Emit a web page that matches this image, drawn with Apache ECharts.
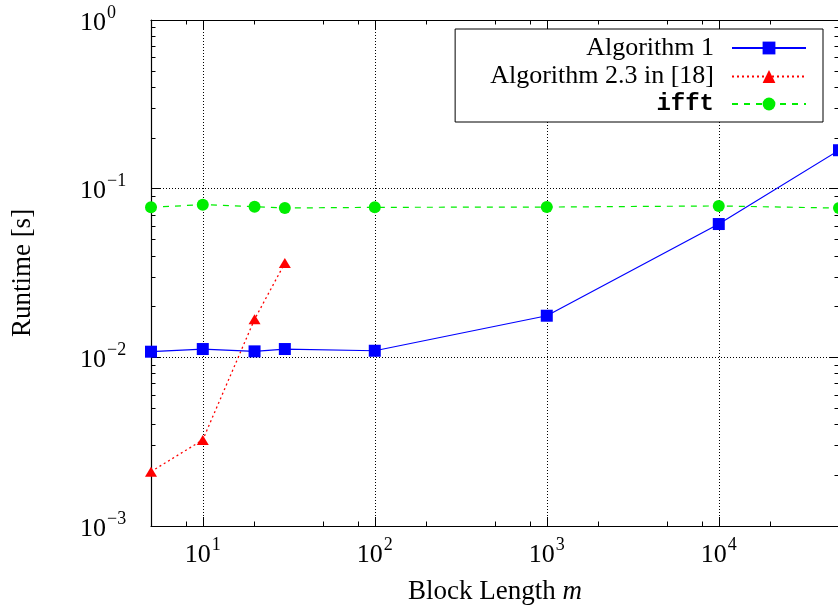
<!DOCTYPE html>
<html>
<head>
<meta charset="utf-8">
<script src="https://cdn.jsdelivr.net/npm/echarts@6/dist/echarts.min.js"></script>
<style>
  html, body { margin: 0; padding: 0; background: #fff; }
  #chart { width: 838px; height: 607px; }
</style>
</head>
<body>
<div id="chart"></div>
<script>
// block lengths m
var blockLen = [5, 10, 20, 30, 100, 1000, 10000, 50000];
var blockLenRef = [5, 10, 20, 30];
// runtimes in seconds
var algo1 = [0.0108, 0.0112, 0.01085, 0.0112, 0.01094, 0.01765, 0.0617, 0.169];
var algoRef = [0.0021, 0.00324, 0.0168, 0.0362];
var ifft = [0.0775, 0.0804, 0.0782, 0.0768, 0.0775, 0.0778, 0.0790, 0.0767];
// ticks
var xMajor = [10, 100, 1000, 10000];
var xMinor = [8, 20, 50, 80, 200, 500, 800, 2000, 5000, 8000, 20000];
var yMajor = [0.001, 0.01, 0.1, 1];
var yMinor = [];
[0.001, 0.01, 0.1].forEach(function (d) {
    for (var k = 2; k <= 9; k++) yMinor.push(+(d * k).toPrecision(3));
});

var serif = "'Liberation Serif', 'DejaVu Serif', serif";
var mono = "'Liberation Mono', 'DejaVu Sans Mono', monospace";

function pair(xs, ys) {
    return xs.map(function (x, i) { return [x, ys[i]]; });
}

function powLabel(v) {
    var e = Math.round(Math.log10(v));
    var s = e < 0 ? '\u2212' + (-e) : '' + e;
    return '{b|10}{s|' + s + '}';
}

var labelRich = {
    b: { fontFamily: serif, fontSize: 26, color: '#000', lineHeight: 32, verticalAlign: 'bottom' },
    s: { fontFamily: serif, fontSize: 18, color: '#000', lineHeight: 32, verticalAlign: 'top', padding: [0, 0, 0, 1] }
};

var black = '#000';

function logAxis(kind, pos, showLine, ticks, len, extra) {
    var a = {
        type: 'log',
        logBase: 10,
        position: pos,
        min: kind === 'x' ? 5 : 0.001,
        max: kind === 'x' ? 50000 : 1,
        axisLine: { show: showLine, onZero: false, lineStyle: { color: black, width: 1.2 } },
        axisTick: { show: true, inside: true, length: len, customValues: ticks, lineStyle: { color: black, width: 1 } },
        axisLabel: { show: false },
        splitLine: { show: false },
        minorTick: { show: false },
        minorSplitLine: { show: false }
    };
    for (var k in extra) a[k] = extra[k];
    return a;
}

var chart = echarts.init(document.getElementById('chart'));

chart.setOption({
    animation: false,
    backgroundColor: '#fff',
    grid: { left: 151, right: -1, top: 20, bottom: 81, containLabel: false, outerBoundsMode: 'none' },
    legend: {
        orient: 'vertical',
        align: 'right',
        right: 15,
        top: 29,
        itemWidth: 74,
        itemHeight: 16,
        itemGap: 2.5,
        padding: [6, 16, 6, 35],
        backgroundColor: '#fff',
        borderColor: black,
        borderWidth: 1,
        borderRadius: 0,
        selectedMode: false,
        textStyle: {
            fontFamily: serif,
            fontSize: 26,
            lineHeight: 24,
            color: black,
            padding: [0, 13, 0, 0],
            rich: {
                tt: { fontFamily: mono, fontSize: 24, color: black, lineHeight: 24, fontWeight: 'bold' }
            }
        },
        formatter: function (name) {
            return name === 'ifft' ? '{tt|ifft}' : name;
        },
        data: ['Algorithm 1', 'Algorithm 2.3 in [18]', 'ifft']
    },
    xAxis: [
        logAxis('x', 'bottom', true, xMajor, 9, {
            name: '{n|Block Length }{i|m}',
            nameLocation: 'middle',
            nameGap: 52,
            nameTextStyle: {
                rich: {
                    n: { fontFamily: serif, fontSize: 27, color: black },
                    i: { fontFamily: serif, fontSize: 27, color: black, fontStyle: 'italic' }
                }
            },
            axisLabel: { show: true, customValues: xMajor, margin: 10, formatter: powLabel, rich: labelRich },
            splitLine: { show: true, lineStyle: { color: black, width: 1, type: [1, 2] } }
        }),
        logAxis('x', 'bottom', false, xMinor, 4.5, {}),
        logAxis('x', 'top', true, xMajor, 9, {}),
        logAxis('x', 'top', false, xMinor, 4.5, {})
    ],
    yAxis: [
        logAxis('y', 'left', true, yMajor, 9, {
            name: 'Runtime [s]',
            nameLocation: 'middle',
            nameGap: 115,
            nameTextStyle: { fontFamily: serif, fontSize: 27, color: black },
            axisLabel: { show: true, customValues: yMajor, margin: 71, align: 'left', formatter: powLabel, rich: labelRich },
            splitLine: { show: true, lineStyle: { color: black, width: 1, type: [1, 2] } }
        }),
        logAxis('y', 'left', false, yMinor, 4.5, {}),
        logAxis('y', 'right', true, yMajor, 9, {}),
        logAxis('y', 'right', false, yMinor, 4.5, {})
    ],
    series: [
        {
            name: 'Algorithm 1',
            type: 'line',
            data: pair(blockLen, algo1),
            symbol: 'rect',
            symbolSize: 12,
            clip: false,
            itemStyle: { color: '#0000ff' },
            lineStyle: { color: '#0000ff', width: 1.2, type: 'solid' },
            z: 4
        },
        {
            name: 'Algorithm 2.3 in [18]',
            type: 'line',
            data: pair(blockLenRef, algoRef),
            symbol: 'triangle',
            symbolSize: [12, 10],
            clip: false,
            itemStyle: { color: '#ff0000' },
            lineStyle: { color: '#ff0000', width: 1.3, type: [2, 3] },
            z: 3
        },
        {
            name: 'ifft',
            type: 'line',
            data: pair(blockLen, ifft),
            symbol: 'circle',
            symbolSize: 12,
            clip: false,
            itemStyle: { color: '#00ee00' },
            lineStyle: { color: '#00ee00', width: 1.2, type: [6, 6] },
            z: 2
        }
    ]
});
</script>
</body>
</html>
